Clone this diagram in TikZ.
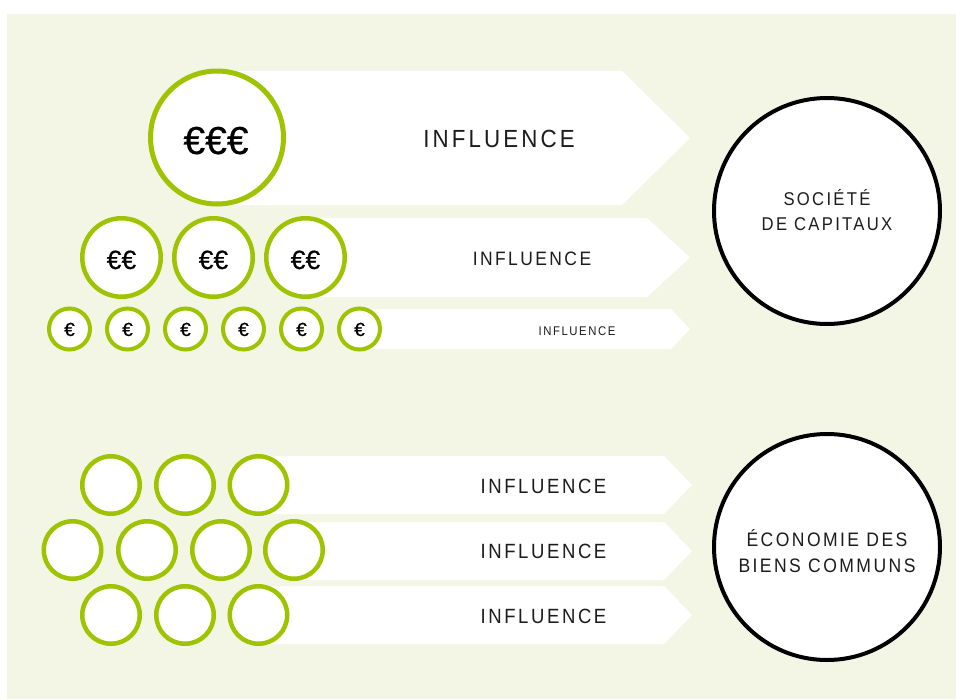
\documentclass[tikz,border=0pt]{standalone}
\usepackage{fontspec}
\setmainfont{Liberation Sans}
\newfontfamily\inffont[FakeStretch=0.9,LetterSpace=12.5]{Liberation Sans}
\newfontfamily\eurofont[FakeBold=0.5]{Liberation Sans}
\definecolor{bgcol}{RGB}{243,246,228}
\definecolor{leaf}{RGB}{158,195,0}
\definecolor{inkcol}{RGB}{28,28,28}
\newcommand\infarrow[5]{\fill[white] (#1,#2) -- (#3,#2) -- (#4,{(#2+#5)/2}) -- (#3,#5) -- (#1,#5) -- cycle;}
\begin{document}
\begin{tikzpicture}[x=1pt,y=-1pt,
  coin/.style={circle,draw=leaf,fill=white,inner sep=0pt,text=inkcol},
  bigcoin/.style={coin,minimum size=133pt,line width=5pt},
  midcoin/.style={coin,minimum size=78.5pt,line width=4.5pt},
  smallcoin/.style={coin,minimum size=41pt,line width=4pt},
  plaincoin/.style={coin,minimum size=57.5pt,line width=4.5pt},
  target/.style={circle,draw=black,fill=white,minimum size=226pt,line width=4pt,inner sep=0pt},
  lbl/.style={inner sep=0pt,anchor=base,text=inkcol},
  eurolbl/.style={inner sep=0pt,anchor=base,text=black}
]
\useasboundingbox (0,0) rectangle (956,699);
\fill[bgcol] (7,14) rectangle (956,699);

% arrows
\infarrow{217}{71}{622}{690}{205}
\infarrow{305}{218}{647}{690}{297}
\infarrow{359}{309}{671}{690}{349}
\infarrow{258}{456}{664}{692}{514}
\infarrow{294}{522}{664}{692}{580}
\infarrow{258}{586}{664}{692}{644}

% top coins
\node[bigcoin] (c3) at (217,137.5) {};
\foreach \i/\x in {1/121.5,2/213.5,3/305.5}{
  \node[midcoin] (m\i) at (\x,257.5) {};
  \node[eurolbl] (me\i) at (\x,269) {\eurofont\fontsize{26.5}{30}\selectfont €€};
}
\foreach \i/\x in {1/69.5,2/127.5,3/185.5,4/243.5,5/301.5,6/359.5}{
  \node[smallcoin] (s\i) at (\x,329) {};
  \node[eurolbl] (se\i) at (\x,336) {\eurofont\fontsize{19}{22}\selectfont €};
}
\node[eurolbl] (c3e) at (216,154) {\eurofont\fontsize{39}{44}\selectfont €€€};

% bottom coins
\foreach \i/\x in {1/111,2/185,3/258.5}{
  \node[plaincoin] (a\i) at (\x,485) {};
  \node[plaincoin] (cc\i) at (\x,615) {};
}
\foreach \i/\x in {1/72.5,2/147,3/221,4/294}{
  \node[plaincoin] (b\i) at (\x,550) {};
}

% influence labels
\node[lbl] (i1) at (499,147) {\inffont\fontsize{24.8}{30}\selectfont INFLUENCE};
\node[lbl] (i2) at (532,265) {\inffont\fontsize{19.4}{24}\selectfont INFLUENCE};
\node[lbl] (i3) at (577,335) {\inffont\fontsize{12.6}{15}\selectfont INFLUENCE};
\node[lbl] (i4) at (543.5,493) {\inffont\fontsize{20.6}{25}\selectfont INFLUENCE};
\node[lbl] (i5) at (543.5,558) {\inffont\fontsize{20.6}{25}\selectfont INFLUENCE};
\node[lbl] (i6) at (543.5,623) {\inffont\fontsize{20.6}{25}\selectfont INFLUENCE};

% targets
\node[target] (sc) at (827,211) {};
\node[lbl] (sc1) at (827,205) {\inffont\fontsize{18.5}{22}\selectfont SOCIÉTÉ};
\node[lbl] (sc2) at (827,230) {\inffont\fontsize{18.5}{22}\selectfont DE CAPITAUX};
\node[target] (ec) at (827,547) {};
\node[lbl] (ec1) at (827,546) {\inffont\fontsize{19.5}{23}\selectfont ÉCONOMIE DES};
\node[lbl] (ec2) at (827,572) {\inffont\fontsize{19.5}{23}\selectfont BIENS COMMUNS};
\end{tikzpicture}
\end{document}
